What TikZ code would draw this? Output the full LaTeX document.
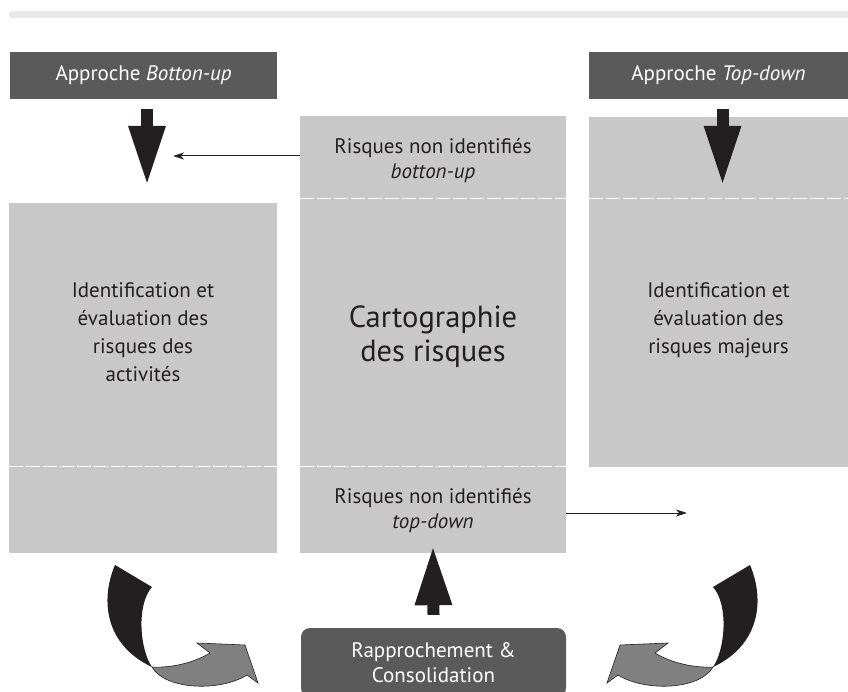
\documentclass[tikz,border=0pt]{standalone}
\usepackage{fontspec}
\setmainfont{PT Sans}
\usetikzlibrary{arrows.meta}
\definecolor{boxgray}{HTML}{C8C8C8}
\definecolor{headgray}{HTML}{5A5A5A}
\definecolor{inkblack}{HTML}{231F20}
\definecolor{turngray}{HTML}{808080}
\definecolor{bandgray}{HTML}{E8E8E8}
\newcommand{\turnarrow}{%
  \fill[inkblack] (115,565) .. controls (100,600) and (105,645) .. (152,667)
    .. controls (140,650) and (136,605) .. (152,587) -- cycle;
  \filldraw[fill=turngray,draw=inkblack,line width=.6pt,line join=miter]
    (152,667) .. controls (168,668) and (192,664) .. (210,653)
    -- (197,643) -- (245,645) -- (258,683) -- (247,675)
    .. controls (220,692) and (165,690) .. (152,667) -- cycle;
}
\begin{document}
\begin{tikzpicture}[x=1pt,y=-1pt,
  box/.style={fill=boxgray,inner sep=0pt},
  boxtext/.style={align=center,text=inkblack,inner sep=0pt,font=\fontsize{21}{28}\selectfont},
  headbox/.style={fill=headgray,inner sep=0pt,text=white,align=center,font=\fontsize{21}{25}\selectfont},
  cut/.style={draw=white,line width=1pt,dash pattern=on 14pt off 3pt},
  bigarrow/.style={draw=inkblack,line width=12pt,-{Triangle[width=34pt,length=60pt]}},
  thinarrow/.style={draw=inkblack,line width=1pt,-{Stealth[length=11pt,width=7pt,inset=3pt]}}]
\useasboundingbox (0,0) rectangle (848,692);
\fill[bandgray,rounded corners=3pt] (9,11) rectangle (860,18);

\node[headbox,minimum width=267pt,minimum height=47pt] at (143.5,75.5) (buhead) {Approche \textit{Botton-up}};
\node[headbox,minimum width=259pt,minimum height=47pt] at (718.5,75.5) (tdhead) {Approche \textit{Top-down}};

\node[box,minimum width=268pt,minimum height=350pt] at (143,378) (leftcol) {};
\node[box,minimum width=266pt,minimum height=437pt] at (433,334.5) (midcol) {};
\node[box,minimum width=259pt,minimum height=350pt] at (718.5,292) (rightcol) {};

\coordinate (cuttop) at (0,199);
\coordinate (cutlow) at (0,466);
\draw[cut] (midcol.west |- cuttop) -- (midcol.east |- cuttop);
\draw[cut] (rightcol.west |- cuttop) -- (rightcol.east |- cuttop);
\draw[cut] (leftcol.west |- cutlow) -- (leftcol.east |- cutlow);
\draw[cut] (midcol.west |- cutlow) -- (midcol.east |- cutlow);

\node[boxtext,font=\fontsize{21}{25}\selectfont] at (433,161) (nonbu) {Risques non identifiés\\\textit{botton-up}};
\node[boxtext,font=\fontsize{30.5}{34}\selectfont] at (433,337) (carto) {Cartographie\\des risques};
\node[boxtext,font=\fontsize{21}{25}\selectfont] at (433,511) (nontd) {Risques non identifiés\\\textit{top-down}};
\node[boxtext] at (143,332) (actid) {Identification et\\évaluation des\\risques des\\activités};
\node[boxtext] at (718.5,320) (majid) {Identification et\\évaluation des\\risques majeurs};

\node[headbox,rounded corners=9pt,minimum width=265pt,minimum height=69pt] at (433.5,662.5) (rap) {Rapprochement \&\\Consolidation};

\coordinate (bufree) at (173,156);
\coordinate (tdfree) at (687,513);
\draw[thinarrow] (midcol.west |- bufree) -- (bufree);
\draw[thinarrow] (midcol.east |- tdfree) -- (tdfree);

\draw[bigarrow] ([xshift=4pt,yshift=-10pt]buhead.south -| leftcol.north) -- ([xshift=4pt,yshift=17pt]leftcol.north);
\draw[bigarrow] ([xshift=4pt,yshift=-10pt]tdhead.south) -- ([xshift=4pt,yshift=-69pt]rightcol.north);
\draw[bigarrow] ([yshift=13pt]rap.north) -- ([yshift=8pt]midcol.south);

\turnarrow
\begin{scope}[shift={(865,0)},xscale=-1]
\turnarrow
\end{scope}
\end{tikzpicture}
\end{document}
